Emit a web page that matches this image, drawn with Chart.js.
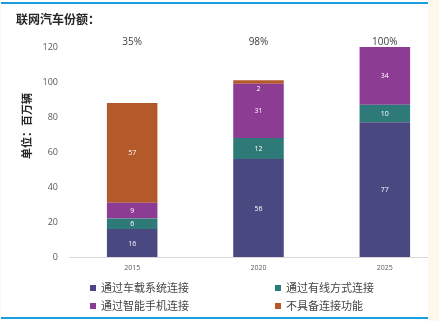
<!DOCTYPE html>
<html>
<head>
<meta charset="utf-8">
<script src="https://cdn.jsdelivr.net/npm/chart.js@4/dist/chart.umd.min.js"></script>
<style>
  html, body { margin: 0; padding: 0; background: #fff; overflow: hidden; width: 439px; height: 321px; }
  #wrap { position: relative; width: 448px; height: 321px; }
  #c { position: absolute; left: 0; top: 0; }
  .rule { position: absolute; left: 0; width: 428px; height: 2px; background: #1a9ee0; }
  .side { position: absolute; top: 0; height: 321px; background: #fff8ec; }
  #legend { position: absolute; left: 0; top: 0; font-family: "Noto Sans CJK SC", sans-serif; font-size: 11px; color: #444; }
  .item { position: absolute; white-space: nowrap; line-height: 14px; }
  .sw { display: inline-block; width: 6px; height: 6px; margin-right: 5px; vertical-align: 1px; }
</style>
</head>
<body>
<div id="wrap">
  <canvas id="c" width="448" height="321"></canvas>
  <div id="legend"></div>
  <div class="rule" style="top:2px"></div>
  <div class="rule" style="top:317px"></div>
  <div class="side" style="left:0; width:1px"></div>
  <div class="side" style="left:428px; width:20px"></div>
</div>
<script>
// Connected car shipments, millions of units
const years = ['2015', '2020', '2025'];
const seriesNames = ['通过车载系统连接', '通过有线方式连接', '通过智能手机连接', '不具备连接功能'];
const embedded = [16, 56, 77];
const tethered = [6, 12, 10];
const smartphone = [9, 31, 34];
const unconnected = [57, 2, 0];
const shareLabels = ['35%', '98%', '100%'];
const yTicks = [0, 20, 40, 60, 80, 100, 120];

const colors = ['#4a4880', '#2e7a78', '#8c3d93', '#b4592a'];
const seriesValues = [embedded, tethered, smartphone, unconnected];

const cjk = '"Noto Sans CJK SC", sans-serif';
const latin = '"Open Sans", "Liberation Sans", sans-serif';

// Chart heading, y-axis caption, share figures and in-bar values
const annotate = {
  id: 'annotate',
  afterDatasetsDraw(chart) {
    const ctx = chart.ctx;
    const xs = chart.scales.x;
    const ys = chart.scales.y;
    ctx.save();
    // heading
    ctx.fillStyle = '#262626';
    ctx.font = 'bold 12px ' + cjk;
    ctx.textAlign = 'left';
    ctx.textBaseline = 'middle';
    ctx.fillText('联网汽车份额：', 16, 19);
    // y-axis caption
    ctx.save();
    ctx.translate(27, 126);
    ctx.rotate(-Math.PI / 2);
    ctx.textAlign = 'center';
    ctx.font = 'bold 11px ' + cjk;
    ctx.fillText('单位：百万辆', 0, 0);
    ctx.restore();
    // share figures above the bars
    ctx.fillStyle = '#404040';
    ctx.font = '10px ' + latin;
    ctx.textAlign = 'center';
    shareLabels.forEach((s, i) => ctx.fillText(s, xs.getPixelForValue(i), 42));
    // values inside the segments
    ctx.fillStyle = '#ffffff';
    ctx.font = '7px ' + latin;
    chart.data.datasets.forEach((ds, di) => {
      const meta = chart.getDatasetMeta(di);
      meta.data.forEach((bar, i) => {
        const v = ds.data[i];
        if (!v) return;
        const h = bar.base - bar.y;
        const y = h < 10 ? bar.base + 5 : (bar.y + bar.base) / 2;
        ctx.fillText(String(v), bar.x, y + 0.5);
      });
    });
    ctx.restore();
  }
};

const chart = new Chart(document.getElementById('c'), {
  type: 'bar',
  data: {
    labels: years,
    datasets: seriesNames.map((name, i) => ({
      label: name,
      data: seriesValues[i],
      backgroundColor: colors[i],
      borderWidth: 0,
      barPercentage: 0.4,
      categoryPercentage: 1.0
    }))
  },
  options: {
    responsive: false,
    animation: false,
    devicePixelRatio: 1,
    layout: { padding: { top: 47, right: 0, bottom: 0, left: 0 } },
    plugins: { legend: { display: false }, tooltip: { enabled: false } },
    scales: {
      x: {
        stacked: true,
        grid: { display: false, drawTicks: false },
        border: { display: true, color: '#d9d9d9', width: 1 },
        ticks: { padding: 7, color: '#595959', font: { size: 7, family: latin } },
        afterFit(s) { s.height = 64; }
      },
      y: {
        stacked: true,
        min: 0,
        max: 120,
        afterBuildTicks(s) { s.ticks = yTicks.map(v => ({ value: v })); },
        grid: { display: false, drawTicks: false },
        border: { display: false },
        ticks: { padding: 11, color: '#595959', font: { size: 9, family: latin } },
        afterFit(s) { s.width = 69; }
      }
    }
  },
  plugins: [annotate]
});

// Two-column legend built from the datasets
const legend = document.getElementById('legend');
const spots = [[90, 280], [275, 280], [90, 298], [275, 298]];
chart.data.datasets.forEach((ds, i) => {
  const el = document.createElement('div');
  el.className = 'item';
  el.style.left = spots[i][0] + 'px';
  el.style.top = spots[i][1] + 'px';
  const sw = document.createElement('span');
  sw.className = 'sw';
  sw.style.background = ds.backgroundColor;
  el.appendChild(sw);
  el.appendChild(document.createTextNode(ds.label));
  legend.appendChild(el);
});
</script>
</body>
</html>
